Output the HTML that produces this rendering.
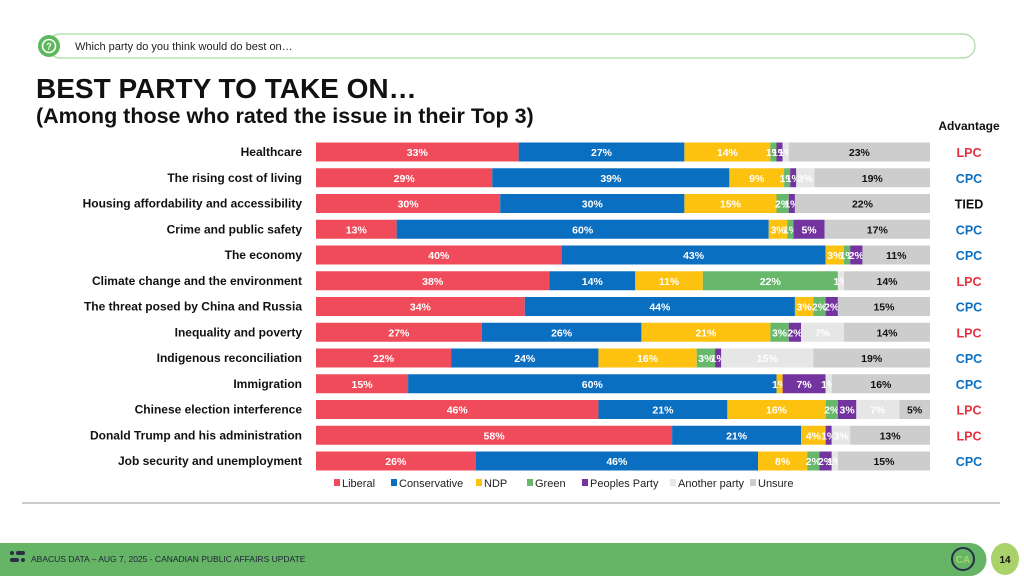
<!DOCTYPE html>
<html><head><meta charset="utf-8">
<style>
body{margin:0;width:1024px;height:576px;overflow:hidden;background:#fff;font-family:"Liberation Sans",sans-serif;}
svg text{font-family:"Liberation Sans",sans-serif;}
</style></head>
<body>
<svg id="chart" width="1024" height="576" viewBox="0 0 1024 576">
  <rect x="48" y="34" width="927" height="24" rx="12" fill="#fff" stroke="#a9d9a3" stroke-width="1.2"/>
  <circle cx="49" cy="46" r="11" fill="#5cb85c"/>
  <circle cx="49" cy="46" r="6.5" fill="none" stroke="#fff" stroke-width="1.6"/>
  <text x="49" y="49.5" font-size="9" font-weight="bold" fill="#fff" text-anchor="middle">?</text>
  <text x="75" y="50" font-size="11" fill="#222">Which party do you think would do best on…</text>
  <text x="36" y="98" font-size="28" font-weight="bold" fill="#111">BEST PARTY TO TAKE ON…</text>
  <text x="36" y="123" font-size="21.5" font-weight="bold" fill="#111">(Among those who rated the issue in their Top 3)</text>
  <text x="969" y="130" font-size="12" font-weight="bold" fill="#111" text-anchor="middle">Advantage</text>
  <g id="rows"></g>
  <g id="legend"></g>
  <line x1="22" y1="503" x2="1000" y2="503" stroke="#999" stroke-width="1"/>
  <path d="M0 543 H970 A16.5 16.5 0 0 1 970 576 H0 Z" fill="#66b466"/>
  <rect x="10" y="551" width="4" height="4" rx="2" fill="#2b2f45"/>
  <rect x="16" y="551" width="9" height="4" rx="2" fill="#2b2f45"/>
  <rect x="10" y="558" width="9" height="4" rx="2" fill="#2b2f45"/>
  <rect x="21" y="558" width="4" height="4" rx="2" fill="#2b2f45"/>
  <text x="31" y="562" font-size="8.5" fill="#1e2236">ABACUS DATA – AUG 7, 2025 - CANADIAN PUBLIC AFFAIRS UPDATE</text>
  <circle cx="963" cy="559" r="11" fill="none" stroke="#24304a" stroke-width="2"/>
  <text x="963" y="563" font-size="10" font-weight="bold" fill="#a8d46b" text-anchor="middle">CA</text>
  <ellipse cx="1005" cy="559" rx="14" ry="16" fill="#a9d26b"/>
  <text x="1005" y="563" font-size="10" font-weight="bold" fill="#111" text-anchor="middle">14</text>
</svg>
<script>
const categories = ["Healthcare","The rising cost of living","Housing affordability and accessibility","Crime and public safety","The economy","Climate change and the environment","The threat posed by China and Russia","Inequality and poverty","Indigenous reconciliation","Immigration","Chinese election interference","Donald Trump and his administration","Job security and unemployment"];
const liberal      = [33,29,30,13,40,38,34,27,22,15,46,58,26];
const conservative = [27,39,30,60,43,14,44,26,24,60,21,21,46];
const ndp          = [14,9,15,3,3,11,3,21,16,1,16,4,8];
const green        = [1,1,2,1,1,22,2,3,3,0,2,0,2];
const peoples      = [1,1,1,5,2,0,2,2,1,7,3,1,2];
const another      = [1,3,0,0,0,1,0,7,15,1,7,3,1];
const unsure       = [23,19,22,17,11,14,15,14,19,16,5,13,15];
const advantage    = ["LPC","CPC","TIED","CPC","CPC","LPC","CPC","LPC","CPC","CPC","LPC","LPC","CPC"];
const seriesNames  = ["Liberal","Conservative","NDP","Green","Peoples Party","Another party","Unsure"];

const series = [liberal,conservative,ndp,green,peoples,another,unsure];
const colors = ["#f04b5a","#0b6fc1","#fdc20f","#68b86b","#7434a0","#e6e6e6","#cdcdcd"];
const textCol = ["#fff","#fff","#fff","#fff","#fff","#fff","#111"];
const advCol = {LPC:"#e8303f",CPC:"#0b6fc1",TIED:"#111"};
const NS="http://www.w3.org/2000/svg";
const x0=316, x1=930, yTop=152, rowStep=25.75, barH=19;
function yScale(i){return yTop + i*rowStep;}
function mk(tag,attrs,parent){const e=document.createElementNS(NS,tag);for(const k in attrs)e.setAttribute(k,attrs[k]);parent.appendChild(e);return e;}
const rowsG=document.getElementById('rows');
categories.forEach((cat,i)=>{
  const cy=yScale(i);
  let total=0; series.forEach(s=>total+=s[i]);
  const xScale=v=>v/total*(x1-x0);
  const lab=mk('text',{x:302,y:cy+4,'font-size':12,'font-weight':'bold',fill:'#111','text-anchor':'end'},rowsG);
  
  
  lab.textContent=cat;
  let acc=0;
  series.forEach((s,j)=>{
    const v=s[i];
    const x=x0+xScale(acc), w=xScale(v);
    acc+=v;
    if(v<=0) return;
    const r=mk('rect',{x:x,y:cy-barH/2,width:w,height:barH,fill:colors[j]},rowsG);
    
    
    const t=mk('text',{x:x+w/2,y:cy+4,'font-size':10.5,'font-weight':'bold',fill:textCol[j],'text-anchor':'middle'},rowsG);
    
    
    t.textContent=v+'%';
  });
  const a=mk('text',{x:969,y:cy+5,'font-size':12.5,'font-weight':'bold',fill:advCol[advantage[i]],'text-anchor':'middle'},rowsG);
  
  
  a.textContent=advantage[i];
});
const legG=document.getElementById('legend');
const legX=[335,392,477,528,583,671,751];
seriesNames.forEach((n,j)=>{
  const r=mk('rect',{x:legX[j]-1,y:479,width:6,height:7,fill:colors[j]},legG);
  
  
  const t=mk('text',{x:legX[j]+7,y:487,'font-size':11,fill:'#222'},legG);
  
  
  t.textContent=n;
});
</script>
</body></html>
